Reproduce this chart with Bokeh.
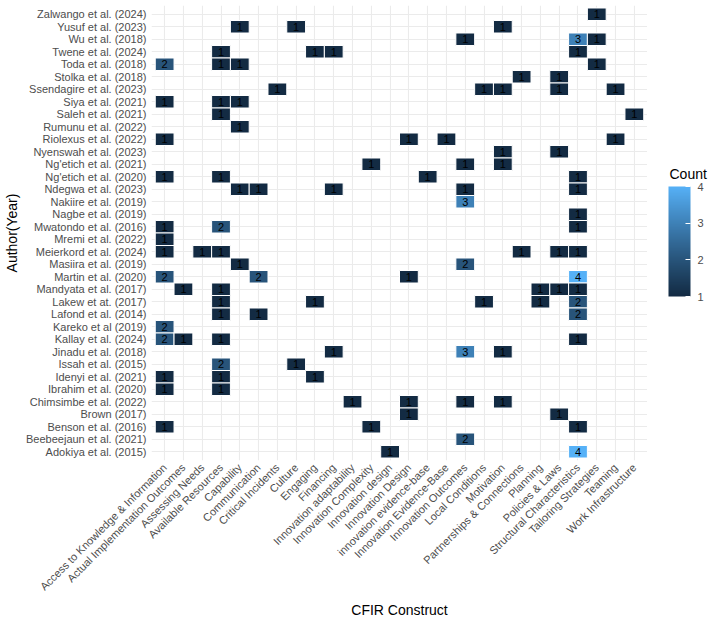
import numpy as np
from bokeh.plotting import figure
from bokeh.layouts import row
from bokeh.models import (ColumnDataSource, FactorRange, Range1d, LinearColorMapper, ColorBar,
                          FixedTicker, Label)
from bokeh.transform import transform
from bokeh.core.properties import value
from bokeh.embed import file_html
from bokeh.resources import INLINE

# Studies, listed top to bottom
authors = [
    "Zalwango et al. (2024)", "Yusuf et al. (2023)", "Wu et al. (2018)", "Twene et al. (2024)",
    "Toda et al. (2018)", "Stolka et al. (2018)", "Ssendagire et al. (2023)", "Siya et al. (2021)",
    "Saleh et al. (2021)", "Rumunu et al. (2022)", "Riolexus et al. (2022)", "Nyenswah et al. (2023)",
    "Ng'etich et al. (2021)", "Ng'etich et al. (2020)", "Ndegwa et al. (2023)", "Nakiire et al. (2019)",
    "Nagbe et al. (2019)", "Mwatondo et al. (2016)", "Mremi et al. (2022)", "Meierkord et al. (2024)",
    "Masiira et al. (2019)", "Martin et al. (2020)", "Mandyata et al. (2017)", "Lakew et at. (2017)",
    "Lafond et al. (2014)", "Kareko et al (2019)", "Kallay et al. (2024)", "Jinadu et al. (2018)",
    "Issah et al. (2015)", "Idenyi et al. (2021)", "Ibrahim et al. (2020)", "Chimsimbe et al. (2022)",
    "Brown (2017)", "Benson et al. (2016)", "Beebeejaun et al. (2021)", "Adokiya et al. (2015)",
]

# CFIR constructs, left to right
constructs = [
    "Access to Knowledge & Information", "Actual Implementation Outcomes", "Assessing Needs",
    "Available Resources", "Capability", "Communication", "Critical Incidents", "Culture",
    "Engaging", "Financing", "Innovation adaptability", "Innovation Complexity",
    "Innovation design", "Innovation Design", "innovation evidence-base",
    "Innovation Evidence-Base", "Innovation Outcomes", "Local Conditions", "Motivation",
    "Partnerships & Connections", "Planning", "Policies & Laws", "Structural Characteristics",
    "Tailoring Strategies", "Teaming", "Work Infrastructure",
]

C = constructs  # short alias for the cell lists below

# Non-empty cells: study, construct, count
cell_author = (
    ["Zalwango et al. (2024)"] * 1
    + ["Yusuf et al. (2023)"] * 3
    + ["Wu et al. (2018)"] * 3
    + ["Twene et al. (2024)"] * 4
    + ["Toda et al. (2018)"] * 4
    + ["Stolka et al. (2018)"] * 2
    + ["Ssendagire et al. (2023)"] * 5
    + ["Siya et al. (2021)"] * 3
    + ["Saleh et al. (2021)"] * 2
    + ["Rumunu et al. (2022)"] * 1
    + ["Riolexus et al. (2022)"] * 4
    + ["Nyenswah et al. (2023)"] * 2
    + ["Ng'etich et al. (2021)"] * 3
    + ["Ng'etich et al. (2020)"] * 4
    + ["Ndegwa et al. (2023)"] * 5
    + ["Nakiire et al. (2019)"] * 1
    + ["Nagbe et al. (2019)"] * 1
    + ["Mwatondo et al. (2016)"] * 3
    + ["Mremi et al. (2022)"] * 1
    + ["Meierkord et al. (2024)"] * 6
    + ["Masiira et al. (2019)"] * 2
    + ["Martin et al. (2020)"] * 4
    + ["Mandyata et al. (2017)"] * 5
    + ["Lakew et at. (2017)"] * 5
    + ["Lafond et al. (2014)"] * 3
    + ["Kareko et al (2019)"] * 1
    + ["Kallay et al. (2024)"] * 4
    + ["Jinadu et al. (2018)"] * 3
    + ["Issah et al. (2015)"] * 2
    + ["Idenyi et al. (2021)"] * 3
    + ["Ibrahim et al. (2020)"] * 2
    + ["Chimsimbe et al. (2022)"] * 4
    + ["Brown (2017)"] * 2
    + ["Benson et al. (2016)"] * 3
    + ["Beebeejaun et al. (2021)"] * 1
    + ["Adokiya et al. (2015)"] * 2
)

cell_construct = [
    C[23],                                   # Zalwango
    C[4], C[7], C[18],                       # Yusuf
    C[16], C[22], C[23],                     # Wu
    C[3], C[8], C[9], C[22],                 # Twene
    C[0], C[3], C[4], C[23],                 # Toda
    C[19], C[21],                            # Stolka
    C[6], C[17], C[18], C[21], C[24],        # Ssendagire
    C[0], C[3], C[4],                        # Siya
    C[3], C[25],                             # Saleh
    C[4],                                    # Rumunu
    C[0], C[13], C[15], C[24],               # Riolexus
    C[18], C[21],                            # Nyenswah
    C[11], C[16], C[18],                     # Ng'etich 2021
    C[0], C[3], C[14], C[22],                # Ng'etich 2020
    C[4], C[5], C[9], C[16], C[22],          # Ndegwa
    C[16],                                   # Nakiire
    C[22],                                   # Nagbe
    C[0], C[3], C[22],                       # Mwatondo
    C[0],                                    # Mremi
    C[0], C[2], C[3], C[19], C[21], C[22],   # Meierkord
    C[4], C[16],                             # Masiira
    C[0], C[5], C[13], C[22],                # Martin
    C[1], C[3], C[20], C[21], C[22],         # Mandyata
    C[3], C[8], C[17], C[20], C[22],         # Lakew
    C[3], C[5], C[22],                       # Lafond
    C[0],                                    # Kareko
    C[0], C[1], C[3], C[22],                 # Kallay
    C[9], C[16], C[18],                      # Jinadu
    C[3], C[7],                              # Issah
    C[0], C[3], C[8],                        # Idenyi
    C[0], C[3],                              # Ibrahim
    C[10], C[13], C[16], C[18],              # Chimsimbe
    C[13], C[21],                            # Brown
    C[0], C[11], C[22],                      # Benson
    C[16],                                   # Beebeejaun
    C[12], C[22],                            # Adokiya
]

cell_count = [
    1,
    1, 1, 1,
    1, 3, 1,
    1, 1, 1, 1,
    2, 1, 1, 1,
    1, 1,
    1, 1, 1, 1, 1,
    1, 1, 1,
    1, 1,
    1,
    1, 1, 1, 1,
    1, 1,
    1, 1, 1,
    1, 1, 1, 1,
    1, 1, 1, 1, 1,
    3,
    1,
    1, 2, 1,
    1,
    1, 1, 1, 1, 1, 1,
    1, 2,
    2, 2, 1, 4,
    1, 1, 1, 1, 1,
    1, 1, 1, 1, 2,
    1, 1, 2,
    2,
    2, 1, 1, 1,
    1, 3, 1,
    2, 1,
    1, 1, 1,
    1, 1,
    1, 1, 1, 1,
    1, 1,
    1, 1, 1,
    2,
    1, 4,
]

count_ticks = [1, 2, 3, 4]


# Sequential gradient interpolated in CIELAB between dark navy and light blue
def _hex_to_rgb(h):
    return np.array([int(h[i:i + 2], 16) for i in (1, 3, 5)]) / 255.0


_M = np.array([[0.4124564, 0.3575761, 0.1804375],
               [0.2126729, 0.7151522, 0.0721750],
               [0.0193339, 0.1191920, 0.9503041]])
_WHITE = _M @ np.ones(3)
_D = 6 / 29


def _to_lab(h):
    c = _hex_to_rgb(h)
    lin = np.where(c <= 0.04045, c / 12.92, ((c + 0.055) / 1.055) ** 2.4)
    t = (_M @ lin) / _WHITE
    f = np.where(t > _D ** 3, np.cbrt(t), t / (3 * _D * _D) + 4 / 29)
    return np.array([116 * f[1] - 16, 500 * (f[0] - f[1]), 200 * (f[1] - f[2])])


def _from_lab(lab):
    L, a, b = lab
    fy = (L + 16) / 116
    f = np.array([fy + a / 500, fy, fy - b / 200])
    t = np.where(f > _D, f ** 3, 3 * _D * _D * (f - 4 / 29))
    lin = np.linalg.solve(_M, t * _WHITE)
    lin = np.clip(lin, 0, 1)
    rgb = np.where(lin <= 0.0031308, 12.92 * lin, 1.055 * lin ** (1 / 2.4) - 0.055)
    return "#%02x%02x%02x" % tuple(int(round(v * 255)) for v in np.clip(rgb, 0, 1))


lo, hi = _to_lab("#132B43"), _to_lab("#56B1F7")
palette = [_from_lab(lo + (hi - lo) * t) for t in np.linspace(0, 1, 256)]
mapper = LinearColorMapper(palette=palette, low=min(count_ticks), high=max(count_ticks))

source = ColumnDataSource(dict(
    author=cell_author,
    construct=cell_construct,
    count=cell_count,
    label=[str(v) for v in cell_count],
))

FONT = "Liberation Sans"
HEIGHT = 619

# ---- heatmap ----
p = figure(
    x_range=FactorRange(*constructs, range_padding=0.2, range_padding_units="absolute"),
    y_range=FactorRange(*authors[::-1], range_padding=0.2, range_padding_units="absolute"),
    frame_width=496, frame_height=455,
    min_border_left=151, min_border_right=0, min_border_top=5, min_border_bottom=159,
    output_backend="svg", toolbar_location=None,
)
p.outline_line_color = None
p.background_fill_color = "white"
p.border_fill_color = "white"

p.rect(x="construct", y="author", width=1, height=1, source=source,
       fill_color=transform("count", mapper), line_color="white", line_width=1)
p.text(x="construct", y="author", text="label", source=source,
       text_align="center", text_baseline="middle", text_font_size="11px",
       text_color="black", text_font=value(FONT))

for grid in (p.xgrid, p.ygrid):
    grid.grid_line_color = "#EBEBEB"
    grid.grid_line_width = 1.1

for ax in (p.xaxis, p.yaxis):
    ax.axis_line_color = None
    ax.major_tick_line_color = None
    ax.minor_tick_line_color = None
    ax.major_tick_in = 0
    ax.major_tick_out = 0
    ax.major_label_text_font = FONT
    ax.major_label_text_font_size = "11px"
    ax.major_label_text_color = "#4D4D4D"
    ax.axis_label_text_font = FONT
    ax.axis_label_text_font_size = "14px"
    ax.axis_label_text_font_style = "normal"
    ax.axis_label_text_color = "black"
    ax.major_label_standoff = 5

p.xaxis.axis_label = "CFIR Construct"
p.xaxis.major_label_orientation = np.pi / 4
p.xaxis.axis_label_standoff = 2
p.yaxis.axis_label = "Author(Year)"
p.yaxis.axis_label_standoff = 3

# ---- colour key, in its own narrow panel to the right ----
key = figure(
    width=61, height=HEIGHT, x_range=Range1d(0, 1), y_range=Range1d(0, 1),
    min_border_left=0, min_border_right=0, min_border_top=0, min_border_bottom=0,
    output_backend="svg", toolbar_location=None,
    x_axis_type=None, y_axis_type=None,
)
key.outline_line_color = None
key.xgrid.visible = False
key.ygrid.visible = False
key.background_fill_color = "white"
key.border_fill_color = "white"

# the key's frame lines up with the heatmap frame; positions are pixels from its bottom-left
cb = ColorBar(
    color_mapper=mapper, ticker=FixedTicker(ticks=count_ticks),
    width=22, height=110, location=(21, 163),
    major_label_text_font=FONT, major_label_text_font_size="11px",
    major_label_text_color="#4D4D4D",
    major_tick_line_color="white", major_tick_in=5, major_tick_out=0,
    bar_line_color=None, border_line_color=None, background_fill_color=None,
    label_standoff=7, margin=0, padding=0,
)
key.add_layout(cb, "center")

key.add_layout(Label(
    x=22, y=278, x_units="screen", y_units="screen", text="Count",
    text_font=FONT, text_font_size="14px", text_color="black",
    text_baseline="bottom", text_align="left",
))

layout = row(p, key, spacing=0)
open("out.html", "w").write(file_html(layout, INLINE))
